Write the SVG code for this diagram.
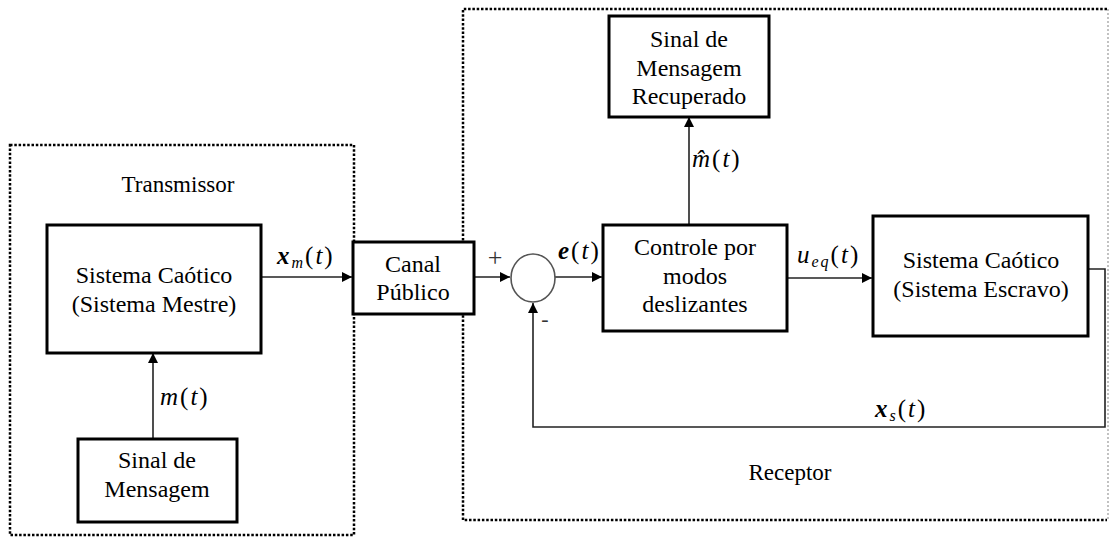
<svg xmlns="http://www.w3.org/2000/svg" width="1110" height="537" viewBox="0 0 1110 537">
  <defs>
    <marker id="arrow" viewBox="0 0 10 10" refX="10" refY="5" markerWidth="10" markerHeight="10" markerUnits="userSpaceOnUse" orient="auto">
      <path d="M0,0 L10,5 L0,10 z" fill="#000"/>
    </marker>
    <style>
      .box { fill: #fff; stroke: #000; stroke-width: 3; }
      .frame { fill: none; stroke: #000; stroke-width: 2.5; stroke-dasharray: 2.5 1.8; }
      .frame-light { fill: none; stroke: #999; stroke-width: 1.2; stroke-dasharray: 2 2; }
      .wire { fill: none; stroke: #222; stroke-width: 1.6; }
      .lbl { font-family: 'Liberation Serif', 'Times New Roman', serif; font-size: 24px; fill: #000; text-anchor: middle; }
      .title { font-size: 23px; }
      .math { font-family: 'Liberation Serif', 'DejaVu Serif', serif; font-size: 25px; fill: #000; letter-spacing: 2px; }
      .it { font-style: italic; }
      .bi { font-style: italic; font-weight: bold; }
      .sub { font-size: 16px; font-style: italic; }
      .sign { font-family: 'Liberation Serif', serif; fill: #333; text-anchor: middle; }
    </style>
  </defs>

  <!-- Transmitter frame -->
  <g id="transmissor">
    <rect class="frame" x="10" y="145" width="344" height="390"/>
    <text class="lbl title" x="178" y="192">Transmissor</text>
  </g>

  <!-- Receiver frame -->
  <g id="receptor">
    <path class="frame" d="M1107,9 H463 V520 H1107"/>
    <path class="frame-light" d="M1108,9 V520"/>
    <text class="lbl title" x="790" y="480">Receptor</text>
  </g>

  <!-- Connectors -->
  <g id="connectors">
    <line class="wire" x1="261" y1="277" x2="352" y2="277" marker-end="url(#arrow)"/>
    <line class="wire" x1="153" y1="439" x2="153" y2="353" marker-end="url(#arrow)"/>
    <line class="wire" x1="474" y1="277" x2="510" y2="277" marker-end="url(#arrow)"/>
    <line class="wire" x1="555" y1="277" x2="602" y2="277" marker-end="url(#arrow)"/>
    <line class="wire" x1="689" y1="225" x2="689" y2="117" marker-end="url(#arrow)"/>
    <line class="wire" x1="787" y1="278" x2="872" y2="278" marker-end="url(#arrow)"/>
    <path class="wire" d="M1088,269 H1105 V427 H533 V303" marker-end="url(#arrow)"/>
  </g>

  <!-- Connector labels -->
  <g id="labels">
    <text class="math" x="277" y="264"><tspan class="bi">x</tspan><tspan class="sub" dy="4">m</tspan><tspan dy="-4">(</tspan><tspan class="it">t</tspan>)</text>
    <text class="math" x="160" y="405"><tspan class="it">m</tspan>(<tspan class="it">t</tspan>)</text>
    <text class="math" x="558" y="259"><tspan class="bi">e</tspan>(<tspan class="it">t</tspan>)</text>
    <text class="math" x="692" y="167"><tspan class="it">m̂</tspan>(<tspan class="it">t</tspan>)</text>
    <text class="math" x="797" y="263"><tspan class="it">u</tspan><tspan class="sub" dy="4">eq</tspan><tspan dy="-4">(</tspan><tspan class="it">t</tspan>)</text>
    <text class="math" x="875" y="417"><tspan class="bi">x</tspan><tspan class="sub" dy="4">s</tspan><tspan dy="-4">(</tspan><tspan class="it">t</tspan>)</text>
    <text class="sign" x="495" y="266" style="font-size:26px">+</text>
    <text class="sign" x="545" y="326" style="font-size:22px">-</text>
  </g>

  <g id="mestre">
    <rect class="box" x="47" y="225" width="214" height="128"/>
    <text class="lbl" x="154" y="283">Sistema Caótico</text>
    <text class="lbl" x="154" y="312">(Sistema Mestre)</text>
  </g>

  <g id="mensagem">
    <rect class="box" x="78" y="439" width="159" height="83"/>
    <text class="lbl" x="157" y="468">Sinal de</text>
    <text class="lbl" x="157" y="497">Mensagem</text>
  </g>

  <g id="canal">
    <rect class="box" x="353" y="242" width="121" height="72"/>
    <text class="lbl" x="413" y="272">Canal</text>
    <text class="lbl" x="413" y="300">Público</text>
  </g>

  <g id="somador">
    <ellipse cx="533" cy="278" rx="22" ry="24" fill="#fff" stroke="#555" stroke-width="1.6"/>
  </g>

  <g id="controle">
    <rect class="box" x="603" y="225" width="184" height="106"/>
    <text class="lbl" x="695" y="255">Controle por</text>
    <text class="lbl" x="695" y="284">modos</text>
    <text class="lbl" x="695" y="312">deslizantes</text>
  </g>

  <g id="recuperado">
    <rect class="box" x="609" y="16" width="160" height="101"/>
    <text class="lbl" x="689" y="47">Sinal de</text>
    <text class="lbl" x="689" y="76">Mensagem</text>
    <text class="lbl" x="689" y="104">Recuperado</text>
  </g>

  <g id="escravo">
    <rect class="box" x="873" y="216" width="215" height="120"/>
    <text class="lbl" x="981" y="268">Sistema Caótico</text>
    <text class="lbl" x="981" y="297">(Sistema Escravo)</text>
  </g>
</svg>
